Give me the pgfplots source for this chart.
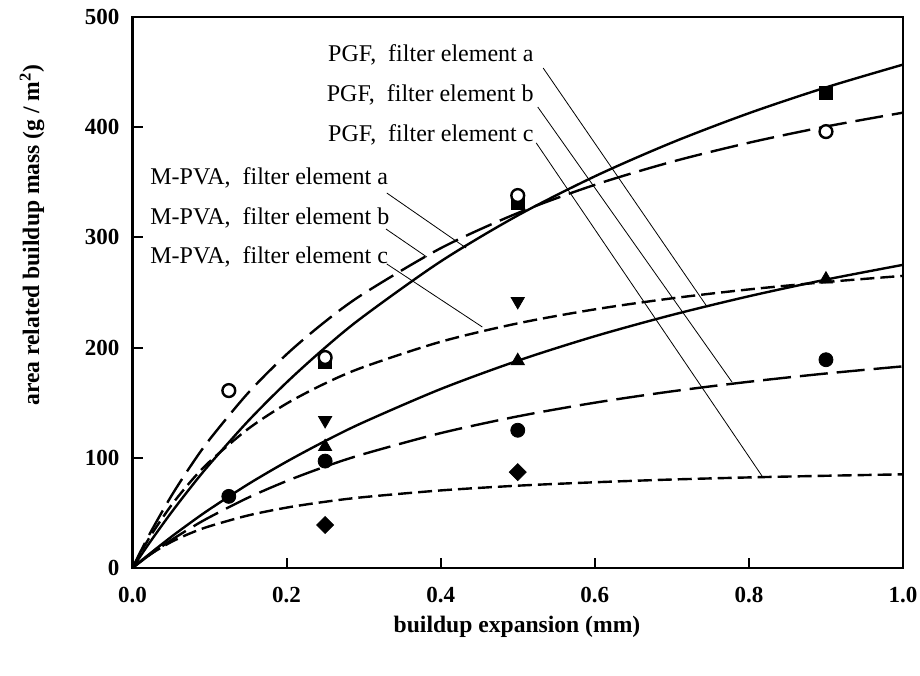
\documentclass[border=0pt]{standalone}
\usepackage{pgfplots}
\pgfplotsset{compat=1.18}
\usepackage{fontspec}
\setmainfont{Liberation Serif}
\begin{document}
\begin{tikzpicture}[x=1pt,y=1pt]
\useasboundingbox (0,0) rectangle (460,337.5);
\begin{axis}[
  at={(66.25pt,53.5pt)}, anchor=south west,
  scale only axis, width=385.25pt, height=275.5pt,
  xmin=0, xmax=1, ymin=0, ymax=500,
  xtick={0,0.2,0.4,0.6,0.8,1.0},
  ytick={0,100,200,300,400,500},
  xtick pos=left, ytick pos=left,
  tick align=inside,
  major tick length=5pt,
  axis line style={line width=1.2pt},
  every tick/.style={line width=1pt, black},
  /pgf/number format/assume math mode=true,
  xticklabel={\pgfmathprintnumber[fixed,fixed zerofill,precision=1]{\tick}},
  ticklabel style={font=\fontsize{11.5}{13}\selectfont\bfseries},
  xticklabel style={yshift=-6pt},
  yticklabel style={xshift=-3pt},
  scaled ticks=false,
  clip=true,
]
% fitted curves
\addplot[black, line width=1.2pt, smooth] coordinates {
(0,0) (0.01,10.5) (0.025,25.8) (0.05,50.0) (0.075,72.7) (0.1,94.1) (0.15,133.3) (0.2,168.4) (0.25,200.0) (0.3,228.5) (0.4,278.2) (0.5,319.9) (0.6,355.4) (0.7,386.0) (0.8,412.7) (0.9,436.1) (1.0,456.8)};
\addplot[black, line width=1.2pt, smooth, dash pattern=on 14pt off 4.5pt] coordinates {
(0,0) (0.01,14.3) (0.025,34.4) (0.05,64.9) (0.075,92.1) (0.1,116.6) (0.15,158.8) (0.2,193.9) (0.25,223.6) (0.3,249.0) (0.4,290.2) (0.5,322.1) (0.6,347.7) (0.7,368.6) (0.8,385.9) (0.9,400.6) (1.0,413.2)};
\addplot[black, line width=1.2pt, smooth, dash pattern=on 7pt off 3pt] coordinates {
(0,0) (0.01,13.1) (0.025,30.9) (0.05,56.5) (0.075,78.1) (0.1,96.5) (0.15,126.2) (0.2,149.2) (0.25,167.5) (0.3,182.4) (0.4,205.3) (0.5,222.0) (0.6,234.7) (0.7,244.7) (0.8,252.8) (0.9,259.5) (1.0,265.1)};
\addplot[black, line width=1.2pt, smooth] coordinates {
(0,0) (0.01,5.9) (0.025,14.4) (0.05,28.1) (0.075,41.0) (0.1,53.3) (0.15,76.0) (0.2,96.5) (0.25,115.2) (0.3,132.3) (0.4,162.4) (0.5,188.1) (0.6,210.3) (0.7,229.6) (0.8,246.6) (0.9,261.7) (1.0,275.1)};
\addplot[black, line width=1.2pt, smooth, dash pattern=on 14pt off 4.5pt] coordinates {
(0,0) (0.01,5.4) (0.025,13.2) (0.05,25.2) (0.075,36.1) (0.1,46.1) (0.15,63.8) (0.2,78.9) (0.25,92.0) (0.3,103.4) (0.4,122.4) (0.5,137.6) (0.6,150.0) (0.7,160.3) (0.8,169.0) (0.9,176.5) (1.0,183.0)};
\addplot[black, line width=1.2pt, smooth, dash pattern=on 7pt off 3pt] coordinates {
(0,0) (0.01,5.8) (0.025,13.3) (0.05,23.5) (0.075,31.5) (0.1,37.9) (0.15,47.7) (0.2,54.8) (0.25,60.1) (0.3,64.3) (0.4,70.4) (0.5,74.7) (0.6,77.8) (0.7,80.3) (0.8,82.2) (0.9,83.7) (1.0,85.0)};
% measured points
\addplot[only marks, mark=square*, mark size=3.2pt, black] coordinates {(0.25,187) (0.5,331) (0.9,431)};
\addplot[only marks, mark=*, mark size=3.2pt, black, mark options={fill=white, line width=1.2pt}] coordinates {(0.125,161) (0.25,191) (0.5,338) (0.9,396)};
\addplot[only marks, mark=triangle*, mark size=3.8pt, black, mark options={rotate=180}] coordinates {(0.25,134) (0.5,242)};
\addplot[only marks, mark=triangle*, mark size=3.8pt, black] coordinates {(0.25,110) (0.5,188) (0.9,262)};
\addplot[only marks, mark=*, mark size=3.5pt, black] coordinates {(0.125,65) (0.25,97) (0.5,125) (0.9,189)};
\addplot[only marks, mark=square*, mark size=3pt, black, mark options={rotate=45}] coordinates {(0.25,39) (0.5,87)};
% annotations
\begin{scope}[every node/.style={font=\fontsize{12}{14}\selectfont, inner sep=0pt}]
\node[anchor=east] at (axis cs:0.521,465.5) {PGF,\ \ filter element a};
\node[anchor=east] at (axis cs:0.521,429.2) {PGF,\ \ filter element b};
\node[anchor=east] at (axis cs:0.521,392.9) {PGF,\ \ filter element c};
\node[anchor=west] at (axis cs:0.0227,353.9) {M-PVA,\ \ filter element a};
\node[anchor=west] at (axis cs:0.0227,317.6) {M-PVA,\ \ filter element b};
\node[anchor=west] at (axis cs:0.0227,282.2) {M-PVA,\ \ filter element c};
\end{scope}
\draw[line width=0.4pt] (axis cs:0.533,453.7) -- (axis cs:0.746,236.8);
\draw[line width=0.4pt] (axis cs:0.526,418.3) -- (axis cs:0.778,168.8);
\draw[line width=0.4pt] (axis cs:0.524,385.7) -- (axis cs:0.817,83.5);
\draw[line width=0.4pt] (axis cs:0.330,340.3) -- (axis cs:0.433,290.4);
\draw[line width=0.4pt] (axis cs:0.329,307.6) -- (axis cs:0.382,282.2);
\draw[line width=0.4pt] (axis cs:0.330,275.9) -- (axis cs:0.454,218.7);
\end{axis}
\node[font=\fontsize{11.8}{13}\selectfont\bfseries] at (258.5,24) {buildup expansion (mm)};
\node[rotate=90, font=\fontsize{11.8}{13}\selectfont\bfseries] at (16,220) {area related buildup mass (g / m\textsuperscript{2})};
\end{tikzpicture}
\end{document}
